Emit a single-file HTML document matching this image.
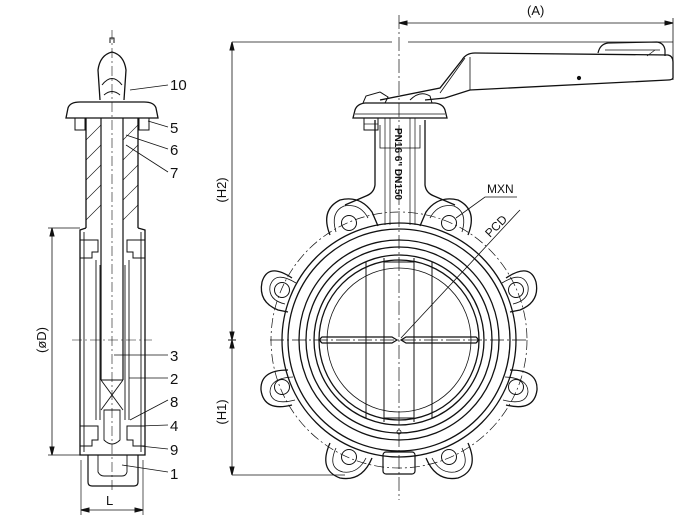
<!DOCTYPE html>
<html><head><meta charset="utf-8"><style>
html,body{margin:0;padding:0;background:#fff;width:700px;height:524px;overflow:hidden}
svg{display:block}
text{font-family:"Liberation Sans",sans-serif;fill:#111}
</style></head><body>
<svg width="700" height="524" viewBox="0 0 700 524" xmlns="http://www.w3.org/2000/svg" fill="none" stroke="#111" stroke-width="1">
<!-- ===== dimensions right view ===== -->
<line x1="232" y1="42" x2="392" y2="42" stroke-width="0.8"/>
<line x1="408" y1="42" x2="673" y2="42" stroke-width="0.8"/>
<line x1="399" y1="15" x2="399" y2="500" stroke-width="0.7" stroke-dasharray="14 3 2 3"/>
<line x1="673" y1="18" x2="673" y2="80" stroke-width="0.8"/>
<line x1="399" y1="23" x2="673" y2="23" stroke-width="0.8"/>
<path d="M399 23 l8 -2 v4z M673 23 l-8 -2 v4z" fill="#111"/>
<text x="527" y="15" font-size="13" stroke="none">(A)</text>
<line x1="232" y1="42" x2="232" y2="475" stroke-width="0.8"/>
<line x1="228" y1="340" x2="236" y2="340"/>
<line x1="232" y1="475" x2="345" y2="475" stroke-width="0.8"/>
<path d="M232 42 l-2 8 h4z M232 340 l-2 -8 h4z M232 340 l-2 8 h4z M232 475 l-2 -8 h4z" fill="#111"/>
<text transform="translate(226,190) rotate(-90)" font-size="13" stroke="none" text-anchor="middle">(H2)</text>
<text transform="translate(226,412) rotate(-90)" font-size="13" stroke="none" text-anchor="middle">(H1)</text>
<line x1="270" y1="340" x2="528" y2="340" stroke-width="0.7" stroke-dasharray="14 3 2 3"/>

<!-- ===== handle ===== -->
<path d="M380 100 L440 88 L462 60 Q466 53 475 53 L668 55 Q673 56 673 62 L673 78 Q672 80 668 80 L470 90 L445 98 L425 100" stroke-width="1.3"/>
<path d="M470 57 L470 90 M465 58 L440 93" stroke-width="0.8"/>
<path d="M598 53 Q600 44 608 43 L657 42 Q664 43 665 50 L665 56" stroke-width="1.2"/>
<path d="M605 50 L660 50 M655 50 L647 56" stroke-width="0.7"/>
<circle cx="579" cy="78" r="1.6" fill="#111"/>
<!-- flange top -->
<path d="M353 118 L355 110 Q357 104 365 103 L435 103 Q443 104 445 110 L447 118 Z" stroke-width="1.3"/>
<line x1="355" y1="114" x2="445" y2="114" stroke-width="0.8"/>
<path d="M363 103 L366 96 L380 92 L388 97 L385 103" stroke-width="1"/>
<path d="M410 100 Q420 90 430 96 L432 103" stroke-width="1"/>
<rect x="364" y="118" width="14" height="12" stroke-width="1"/>
<line x1="364" y1="124" x2="378" y2="124" stroke-width="0.7"/>
<!-- neck -->
<path d="M375 120 L375 185 Q374 193 366 196 L345 205" stroke-width="1.3"/>
<path d="M425 120 L425 185 Q426 193 434 196 L455 205" stroke-width="1.3"/>
<path d="M380 125 L380 148 L420 148 L420 125" stroke-width="0.8"/>
<path d="M385 118 L385 225 M415 118 L415 225 M390 118 L390 225 M410 118 L410 225" stroke-width="0.7"/>
<text transform="translate(395,128) rotate(90)" font-size="10" stroke="none" font-weight="bold">PN16  6"  DN150</text>

<!-- ===== body ===== -->
<circle cx="399" cy="340" r="128" stroke-width="0.7" stroke-dasharray="10 3 2 3"/>
<g stroke-width="1.3">
<circle cx="399" cy="340" r="117"/>
<circle cx="399" cy="340" r="111"/>
<circle cx="399" cy="340" r="100"/>
<circle cx="399" cy="340" r="93"/>
<circle cx="399" cy="340" r="85"/>
<circle cx="399" cy="340" r="80"/>
</g>
<circle cx="399" cy="340" r="72" stroke-width="0.8"/>
<!-- lugs -->
<g stroke-width="1.3">
<path d="M330 235 Q320 210 340 200 Q360 195 372 212 L378 226"/>
<path d="M468 235 Q478 210 458 200 Q438 195 426 212 L420 226"/>
<path d="M292 278 Q268 262 262 282 Q258 302 278 310 L288 312"/>
<path d="M506 278 Q530 262 536 282 Q540 302 520 310 L510 312"/>
<path d="M288 370 Q260 370 261 390 Q264 412 292 405"/>
<path d="M510 370 Q538 370 537 390 Q534 412 506 405"/>
<path d="M330 443 Q318 470 340 478 Q362 482 372 458"/>
<path d="M468 443 Q480 470 458 478 Q436 482 426 458"/>
</g>
<g stroke-width="0.8">
<path d="M336 232 Q330 212 344 206 Q360 203 368 218"/>
<path d="M462 232 Q468 212 454 206 Q438 203 430 218"/>
<path d="M296 283 Q275 270 270 286 Q268 300 285 304"/>
<path d="M502 283 Q523 270 528 286 Q530 300 513 304"/>
<path d="M293 377 Q270 378 270 392 Q272 406 295 400"/>
<path d="M505 377 Q528 378 528 392 Q526 406 503 400"/>
<path d="M336 448 Q327 468 343 472 Q358 474 366 458"/>
<path d="M462 448 Q471 468 455 472 Q440 474 432 458"/>
</g>
<g stroke-width="1">
<circle cx="349" cy="223" r="7.5"/><circle cx="449" cy="223" r="7.5"/>
<circle cx="282" cy="290" r="7.5"/><circle cx="516" cy="290" r="7.5"/>
<circle cx="282" cy="387" r="7.5"/><circle cx="516" cy="387" r="7.5"/>
<circle cx="349" cy="457" r="7.5"/><circle cx="449" cy="457" r="7.5"/>
</g>
<rect x="383" y="452" width="32" height="22" rx="3" stroke-width="1.2"/>
<!-- disc -->
<g stroke-width="1">
<line x1="366" y1="262" x2="366" y2="418"/>
<line x1="384" y1="258" x2="384" y2="422"/>
<line x1="414" y1="258" x2="414" y2="422"/>
<line x1="432" y1="262" x2="432" y2="418"/>
<line x1="384" y1="262" x2="414" y2="262"/>
<line x1="384" y1="418" x2="414" y2="418"/>
</g>
<path d="M322 337 L392 337 L397 340 L392 343 L322 343 Q318 340 322 337Z" stroke-width="1.2"/>
<path d="M476 337 L406 337 L401 340 L406 343 L476 343 Q480 340 476 337Z" stroke-width="1.2"/>
<circle cx="399" cy="432" r="2" stroke-width="0.8"/>
<!-- leaders -->
<path d="M401 338 L518 212 L520 210" stroke-width="0.8"/>
<text transform="translate(490,238) rotate(-45)" font-size="12" stroke="none">PCD</text>
<path d="M456 218 L485 197 L517 197" stroke-width="0.8"/>
<text x="487" y="193" font-size="12" stroke="none">MXN</text>

<!-- ===== left view ===== -->
<line x1="112" y1="30" x2="112" y2="490" stroke-width="0.6" stroke-dasharray="10 3 2 3"/>
<line x1="72" y1="340" x2="152" y2="340" stroke-width="0.6" stroke-dasharray="10 3 2 3"/>
<!-- cap -->
<path d="M110 43 L110 38 L114 38 L114 43" stroke-width="1"/>
<path d="M100 100 L98 70 Q100 55 112 52 Q124 55 126 70 L124 100" stroke-width="1.3"/>
<path d="M102 85 Q112 72 122 85 M104 95 Q112 88 120 95" stroke-width="1"/>
<path d="M66 118 L68 108 Q70 102 80 102 L144 102 Q154 102 156 108 L158 118 Z" stroke-width="1.3"/>
<rect x="75" y="118" width="10" height="12" stroke-width="1"/>
<rect x="139" y="118" width="10" height="12" stroke-width="1"/>
<!-- neck -->
<path d="M86 118 L86 228 M138 118 L138 228" stroke-width="1.3"/>
<path d="M101 118 L101 380 M123 118 L123 380" stroke-width="1.2"/>
<g stroke-width="0.6">
<path d="M86 140 L101 125 M86 160 L101 145 M86 180 L101 165 M86 200 L101 185 M86 220 L101 205 M123 140 L138 125 M123 160 L138 145 M123 180 L138 165 M123 200 L138 185 M123 220 L138 205"/>
</g>
<!-- body -->
<path d="M86 228 L80 230 L80 455 L145 455 L145 230 L138 228" stroke-width="1.3"/>
<path d="M84 232 L84 452 M141 232 L141 452" stroke-width="0.9"/>
<path d="M80 240 L98 240 L98 252 L92 252 L92 258 L80 258 M145 240 L127 240 L127 252 L133 252 L133 258 L145 258" stroke-width="1"/>
<path d="M80 426 L98 426 L98 440 L92 440 L92 446 L80 446 M145 426 L127 426 L127 440 L133 440 L133 446 L145 446" stroke-width="1"/>
<path d="M96 260 L96 420 M129 260 L129 420 M100 265 L100 420 M125 265 L125 420" stroke-width="0.9"/>
<path d="M101 380 L123 380 M101 380 L123 410 M123 380 L101 410 M104 410 L120 410 L120 440 Q112 448 104 440 Z" stroke-width="0.9"/>
<!-- bottom lug -->
<path d="M88 455 L88 482 Q88 486 92 486 L134 486 Q138 486 138 482 L138 455" stroke-width="1.2"/>
<path d="M98 455 L98 472 Q100 476 104 476 L122 476 Q126 476 127 472 L127 455" stroke-width="0.9"/>
<!-- dims -->
<line x1="52" y1="228" x2="52" y2="455" stroke-width="0.8"/>
<line x1="48" y1="228" x2="80" y2="228" stroke-width="0.7"/>
<line x1="48" y1="455" x2="80" y2="455" stroke-width="0.7"/>
<path d="M52 228 l-2 8 h4z M52 455 l-2 -8 h4z" fill="#111"/>
<text transform="translate(46,340) rotate(-90)" font-size="13" stroke="none" text-anchor="middle">(øD)</text>
<line x1="81" y1="460" x2="81" y2="515" stroke-width="0.7"/>
<line x1="143" y1="460" x2="143" y2="515" stroke-width="0.7"/>
<line x1="81" y1="510" x2="143" y2="510" stroke-width="0.8"/>
<path d="M81 510 l8 -2 v4z M143 510 l-8 -2 v4z" fill="#111"/>
<text x="106" y="505" font-size="13" stroke="none">L</text>
<!-- callouts -->
<g stroke-width="0.8">
<line x1="130" y1="90" x2="168" y2="85"/>
<line x1="148" y1="121" x2="168" y2="127"/>
<line x1="126" y1="135" x2="168" y2="149"/>
<line x1="126" y1="145" x2="168" y2="172"/>
<line x1="114" y1="355" x2="168" y2="355"/>
<line x1="129" y1="378" x2="168" y2="378"/>
<line x1="130" y1="420" x2="168" y2="400"/>
<line x1="140" y1="426" x2="168" y2="425"/>
<line x1="140" y1="446" x2="168" y2="449"/>
<line x1="122" y1="465" x2="168" y2="472"/>
</g>
<g font-size="15" stroke="none">
<text x="170" y="90">10</text>
<text x="170" y="133">5</text>
<text x="170" y="155">6</text>
<text x="170" y="178">7</text>
<text x="170" y="361">3</text>
<text x="170" y="384">2</text>
<text x="170" y="407">8</text>
<text x="170" y="431">4</text>
<text x="170" y="455">9</text>
<text x="170" y="479">1</text>
</g>
</svg>
</body></html>
